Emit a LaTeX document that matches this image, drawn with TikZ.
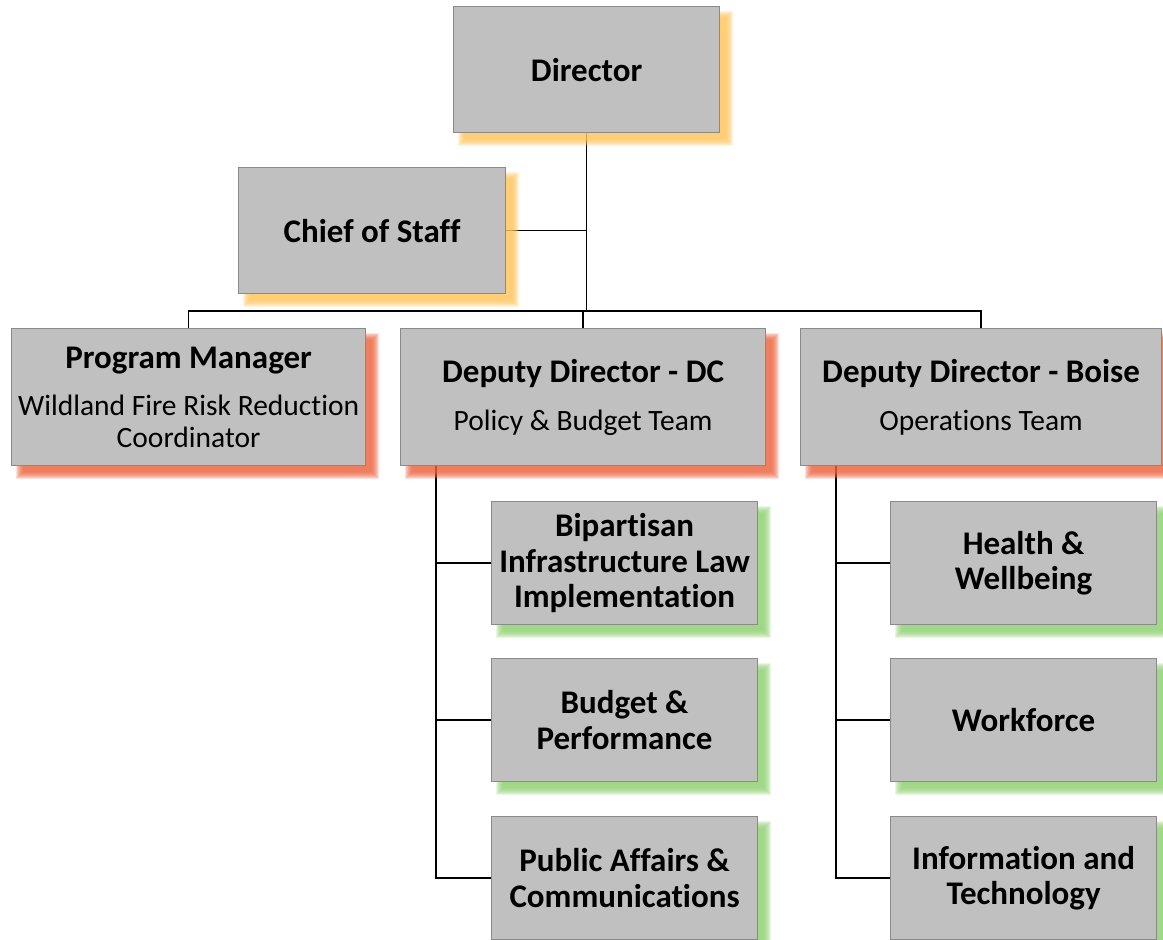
\documentclass[tikz,border=0pt]{standalone}
\usepackage{fontspec}
\setmainfont{Carlito}[Ligatures={NoCommon}]
\usetikzlibrary{backgrounds}
\definecolor{boxfill}{HTML}{C0C0C0}
\definecolor{boxline}{HTML}{8A8A8A}
\definecolor{shYellow}{HTML}{FFC45C}
\definecolor{shRed}{HTML}{EC6440}
\definecolor{shGreen}{HTML}{8FD070}
\newcommand\orgshadow[2]{%
  \foreach \d in {4,3,2,1,0,-1,-2,-3}{%
    \fill[#2,opacity=0.2] ([shift={(9-\d,9-\d)}]#1.north west) rectangle ([shift={(9+\d,9+\d)}]#1.south east);}}
\begin{document}
\begin{tikzpicture}[x=1pt,y=-1pt,
  orgbox/.style={draw=boxline, fill=boxfill, line width=1.2pt, inner sep=2pt,
    align=center, text=black, anchor=north west},
  boldtxt/.style={font=\fontsize{33}{35.5}\selectfont\bfseries},
  mixtxt/.style={font=\fontsize{29.5}{32}\selectfont},
  conn/.style={line width=1.3pt, draw=black}]
\useasboundingbox (0,0) rectangle (1163,940);

% top
\node[orgbox, boldtxt, minimum width=266pt, minimum height=126pt] (dir) at (453,6) {Director};
\node[orgbox, boldtxt, minimum width=267pt, minimum height=126pt] (cos) at (238,167) {Chief of Staff};

% middle row
\node[orgbox, mixtxt, minimum width=354pt, minimum height=137pt] (pm) at (11,328)
  {{\fontsize{33}{32}\selectfont\bfseries Program Manager}\\[15pt]Wildland Fire Risk Reduction\\Coordinator};
\node[orgbox, mixtxt, minimum width=365pt, minimum height=137pt] (dc) at (400,328)
  {{\fontsize{33}{32}\selectfont\bfseries Deputy Director - DC}\\[16pt]Policy \& Budget Team};
\node[orgbox, mixtxt, minimum width=361pt, minimum height=137pt] (boise) at (800,328)
  {{\fontsize{33}{32}\selectfont\bfseries Deputy Director - Boise}\\[16pt]Operations Team};

% DC teams
\node[orgbox, boldtxt, minimum width=266pt, minimum height=123pt] (bil) at (491,501)
  {Bipartisan\\Infrastructure Law\\Implementation};
\node[orgbox, boldtxt, minimum width=266pt, minimum height=123pt] (bud) at (491,658)
  {Budget \&\\Performance};
\node[orgbox, boldtxt, minimum width=266pt, minimum height=123pt] (pub) at (491,816)
  {Public Affairs \&\\Communications};

% Boise teams
\node[orgbox, boldtxt, minimum width=266pt, minimum height=123pt] (hw) at (890,501)
  {Health \&\\Wellbeing};
\node[orgbox, boldtxt, minimum width=266pt, minimum height=123pt] (wf) at (890,658)
  {Workforce};
\node[orgbox, boldtxt, minimum width=266pt, minimum height=123pt] (it) at (890,816)
  {Information and\\Technology};

\coordinate (busy) at (0,311);
\coordinate (dcl) at ([xshift=36pt]dc.south west);
\coordinate (bol) at ([xshift=36pt]boise.south west);

\begin{pgfonlayer}{background}
  \draw[conn] (dir.south) -- (dir.south |- busy);
  \draw[conn] (cos.east) -- (cos.east -| dir.south);
  \draw[conn] (pm.north) -- (pm.north |- busy) -| (boise.north);
  \draw[conn] (dc.north) -- (dc.north |- busy);
  \draw[conn] (dcl) |- (bil.west);
  \draw[conn] (dcl) |- (bud.west);
  \draw[conn] (dcl) |- (pub.west);
  \draw[conn] (bol) |- (hw.west);
  \draw[conn] (bol) |- (wf.west);
  \draw[conn] (bol) |- (it.west);
  \orgshadow{dir}{shYellow}
  \orgshadow{cos}{shYellow}
  \orgshadow{pm}{shRed}
  \orgshadow{dc}{shRed}
  \orgshadow{boise}{shRed}
  \orgshadow{bil}{shGreen}
  \orgshadow{bud}{shGreen}
  \orgshadow{pub}{shGreen}
  \orgshadow{hw}{shGreen}
  \orgshadow{wf}{shGreen}
  \orgshadow{it}{shGreen}
\end{pgfonlayer}
\end{tikzpicture}
\end{document}
